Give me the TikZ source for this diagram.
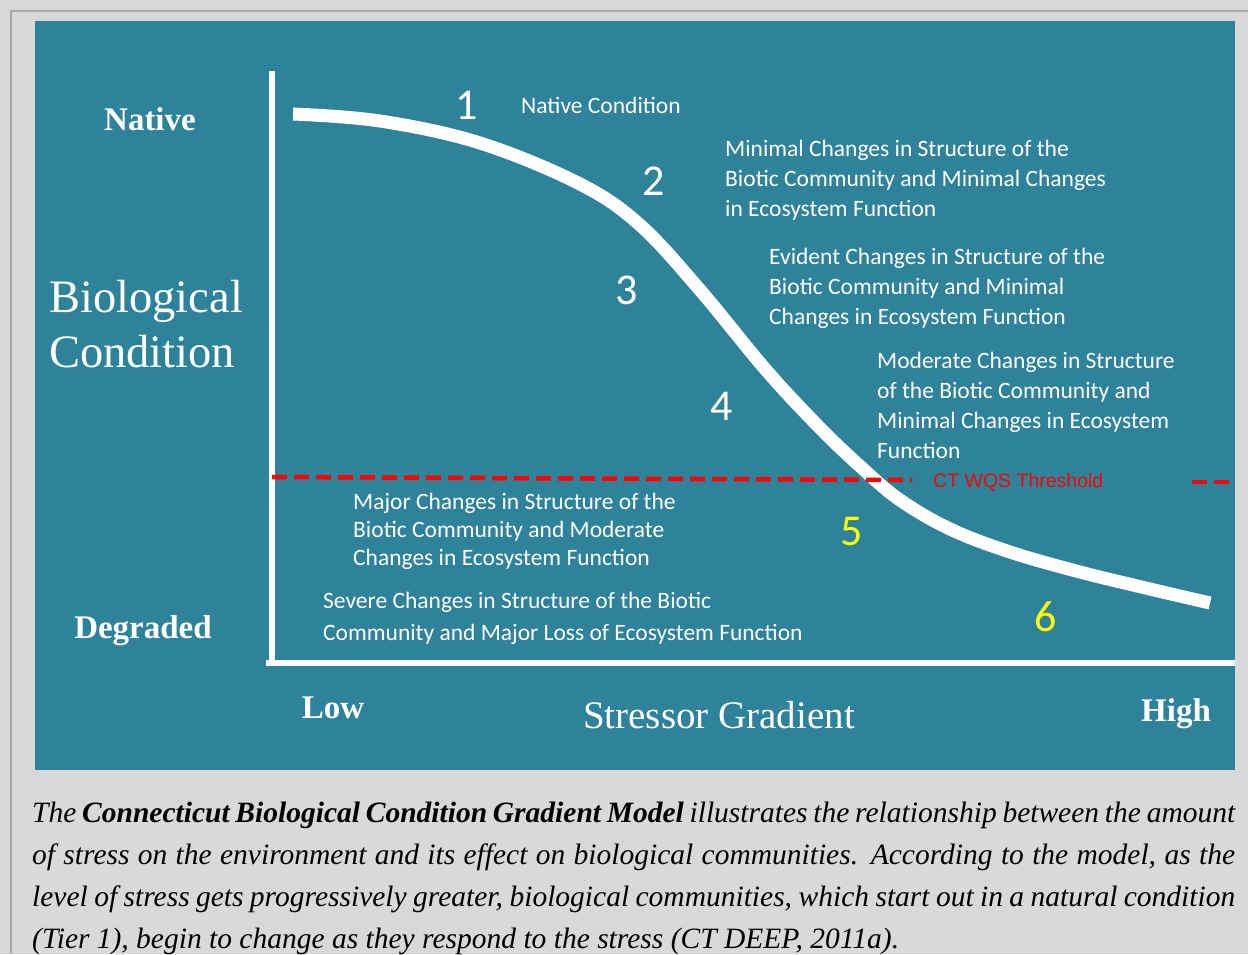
\documentclass[tikz,border=0pt]{standalone}
\usepackage{fontspec}
\setmainfont{Liberation Serif}
\newfontfamily\calfont{Carlito}
\newfontfamily\arialfont{Liberation Sans}
\definecolor{panelteal}{RGB}{46,130,153}
\definecolor{pagegray}{RGB}{217,217,217}
\definecolor{framegray}{RGB}{168,168,168}
\definecolor{tieryellow}{RGB}{255,255,0}

\begin{document}
\begin{tikzpicture}[x=1pt,y=-1pt,
	lbl/.style={text=white,font=\calfont\fontsize{23.5}{30}\selectfont,align=left,anchor=base west,inner sep=0pt},
	tiernum/.style={text=white,font=\calfont\fontsize{44}{44}\selectfont,inner sep=0pt},
	axislbl/.style={text=white,font=\bfseries\fontsize{33}{33}\selectfont,anchor=base,inner sep=0pt},
	threshold/.style={red,line width=4.5pt,dash pattern=on 15pt off 7pt}]
	\useasboundingbox (0,0) rectangle (1248,954);
	\fill[pagegray] (0,0) rectangle (1248,954);
	\draw[framegray,line width=2pt] (11,954) -- (11,11) -- (1248,11);
	\fill[panelteal] (35,21) rectangle (1235,770);

	% axes
	\coordinate (ytop) at (271.5,71);
	\coordinate (yfoot) at (271.5,663);
	\coordinate (xstart) at (266,663);
	\coordinate (xend) at (1235,663);
	\draw[white,line width=6pt] (ytop) -- (yfoot);
	\draw[white,line width=6pt] (xstart) -- (xend);

	% response curve
	\draw[white,line width=13pt] plot[smooth,tension=0.6] coordinates {
		(293,114) (380,121) (480,143) (580,184) (640,225) (700,290)
		(766,370) (820,428) (862,468) (900,500) (950,529) (1010,552)
		(1080,572) (1150,589) (1210,603)};

	% threshold
	\coordinate (thra) at (272,477);
	\coordinate (thrb) at (912,480);
	\coordinate (thrc) at (1192,482);
	\coordinate (thrd) at (1235,482);
	\draw[threshold] (thra) -- (thrb);
	\draw[threshold] (thrc) -- (thrd);
	\node[text=red,font=\arialfont\fontsize{19.5}{20}\selectfont,anchor=base west,inner sep=0pt] (wqs) at (933,487) {CT WQS Threshold};

	% axis labels
	\node[axislbl] (native) at (150,130) {Native};
	\node[axislbl] (degraded) at (143,638) {Degraded};
	\node[axislbl] (low) at (333,718) {Low};
	\node[axislbl] (high) at (1176,721) {High};
	\node[text=white,font=\fontsize{46.5}{55}\selectfont,align=left,anchor=base west,inner sep=0pt] (biocond) at (49,367) {Biological\\Condition};
	\node[text=white,font=\fontsize{39}{40}\selectfont,anchor=base,inner sep=0pt] (stressor) at (719,728) {Stressor Gradient};

	% tiers
	\foreach \n/\x/\y in {1/467/105, 2/654/181, 3/627/290, 4/722/406}
		\node[tiernum] (tier\n) at (\x,\y) {\n};
	\foreach \n/\x/\y in {5/852/532, 6/1046/617}
		\node[tiernum,text=tieryellow] (tier\n) at (\x,\y) {\n};

	\node[lbl] (desc1) at (521,113) {Native Condition};
	\node[lbl] (desc2) at (725,216) {Minimal Changes in Structure of the\\Biotic Community and Minimal Changes\\in Ecosystem Function};
	\node[lbl] (desc3) at (769,324) {Evident Changes in Structure of the\\Biotic Community and Minimal\\Changes in Ecosystem Function};
	\node[lbl] (desc4) at (877,458) {Moderate Changes in Structure\\of the Biotic Community and\\Minimal Changes in Ecosystem\\Function};
	\node[lbl,font=\calfont\fontsize{23.5}{28}\selectfont] (desc5) at (353,565) {Major Changes in Structure of the\\Biotic Community and Moderate\\Changes in Ecosystem Function};
	\node[lbl,font=\calfont\fontsize{23.5}{32}\selectfont] (desc6) at (323,640) {Severe Changes in Structure of the Biotic\\Community and Major Loss of Ecosystem Function};

	% caption
	\node[anchor=base west,inner sep=0pt,align=left,font=\itshape\fontsize{29.5}{42}\selectfont] (caption) at (32,948) {%
		\makebox[1203pt][s]{The \textbf{Connecticut Biological Condition Gradient Model} illustrates the relationship between the amount}\\
		\makebox[1203pt][s]{of stress on the environment and its effect on biological communities. According to the model, as the}\\
		\makebox[1203pt][s]{level of stress gets progressively greater, biological communities, which start out in a natural condition}\\
		(Tier 1), begin to change as they respond to the stress (CT DEEP, 2011a).};
\end{tikzpicture}
\end{document}
